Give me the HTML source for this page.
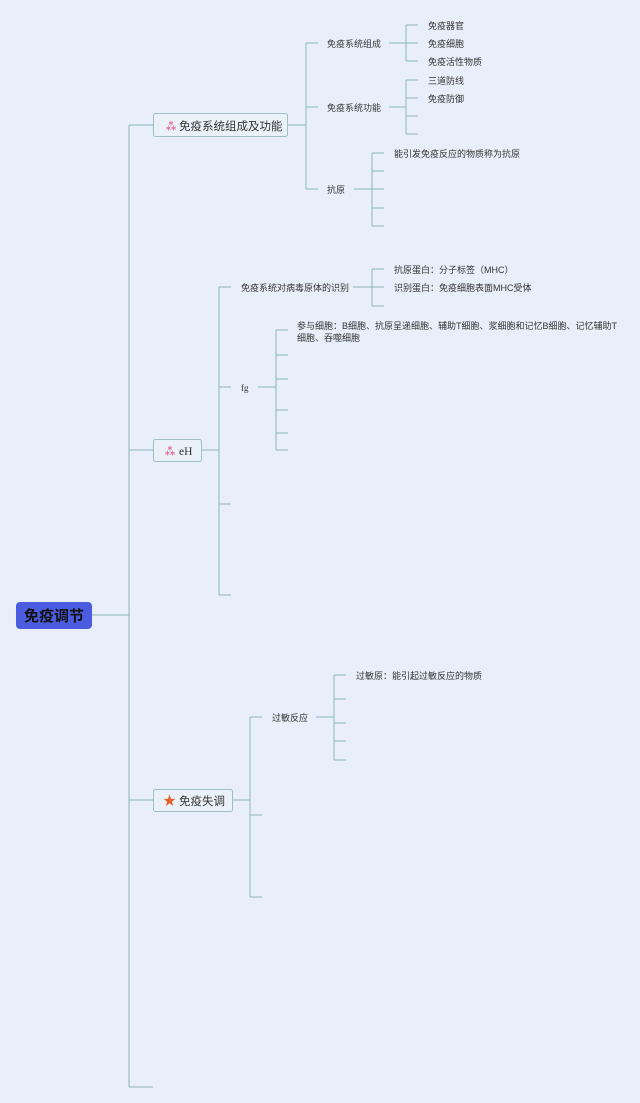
<!DOCTYPE html>
<html><head><meta charset="utf-8"><style>
html,body{margin:0;padding:0;background:#e9effa;}
svg{display:block}
text{font-family:"Liberation Sans","Noto Sans CJK SC",sans-serif;fill:#333;}
.s{font-size:9px}
.m{font-size:11.5px}
</style></head><body>
<svg width="640" height="1103" viewBox="0 0 640 1103" xmlns="http://www.w3.org/2000/svg">
<rect width="640" height="1103" fill="#e9effa"/>
<g stroke="#8bb4bb" stroke-width="1" fill="none">
<path d="M92 615H129M129 125V1087M129 125H153M129 450H153M129 800H153M129 1087H153"/>
<path d="M287 125H306M306 43V189M306 43H318M306 107H318M306 189H318"/>
<path d="M389 43H406M406 25V61M406 25H418M406 43H418M406 61H418"/>
<path d="M389 107H406M406 80V134M406 80H418M406 98H418M406 116H418M406 134H418"/>
<path d="M354 189H372M372 153V226M372 153H384M372 171H384M372 189H384M372 208H384M372 226H384"/>
<path d="M201 450H219M219 287V595M219 287H231M219 387H231M219 504H231M219 595H231"/>
<path d="M353 287H372M372 269V306M372 269H384M372 287H384M372 306H384"/>
<path d="M258 387H276M276 330V450M276 330H288M276 355H288M276 379H288M276 410H288M276 433H288M276 450H288"/>
<path d="M232 800H250M250 717V897M250 717H262M250 815H262M250 897H262"/>
<path d="M316 717H334M334 675V760M334 675H346M334 699H346M334 723H346M334 741H346M334 760H346"/>
</g>
<rect x="16" y="602" width="76" height="27" rx="4" fill="#4b5ce0"/>
<text x="54" y="621" text-anchor="middle" style="font-size:15px;font-weight:bold;fill:#111">免疫调节</text>
<rect x="153.5" y="113.5" width="134" height="23" rx="2" fill="#eaf1f8" stroke="#9cc0c6"/>
<text x="165" y="130" style="font-size:12px;fill:#e0336e">⁂</text>
<text x="179" y="130" class="m">免疫系统组成及功能</text>
<rect x="153.5" y="439.5" width="48" height="22" rx="2" fill="#eaf1f8" stroke="#9cc0c6"/>
<text x="164" y="455" style="font-size:12px;fill:#e0336e">⁂</text>
<text x="179" y="455" class="m" style="font-family:'Liberation Serif',serif">eH</text>
<rect x="153.5" y="789.5" width="79" height="22" rx="2" fill="#eaf1f8" stroke="#9cc0c6"/>
<text x="163" y="805" style="font-size:13px;fill:#e5602c">★</text>
<text x="179" y="805" class="m">免疫失调</text>
<text x="327" y="47" class="s">免疫系统组成</text>
<text x="428" y="29" class="s">免疫器官</text>
<text x="428" y="47" class="s">免疫细胞</text>
<text x="428" y="65" class="s">免疫活性物质</text>
<text x="327" y="111" class="s">免疫系统功能</text>
<text x="428" y="84" class="s">三道防线</text>
<text x="428" y="102" class="s">免疫防御</text>
<text x="327" y="193" class="s">抗原</text>
<text x="394" y="157" class="s">能引发免疫反应的物质称为抗原</text>
<text x="241" y="291" class="s">免疫系统对病毒原体的识别</text>
<text x="394" y="273" class="s">抗原蛋白：分子标签（MHC）</text>
<text x="394" y="291" class="s">识别蛋白：免疫细胞表面MHC受体</text>
<text x="241" y="391" class="s" style="font-family:'Liberation Serif',serif">fg</text>
<text x="297" y="329" class="s">参与细胞：B细胞、抗原呈递细胞、辅助T细胞、浆细胞和记忆B细胞、记忆辅助T</text>
<text x="297" y="341" class="s">细胞、吞噬细胞</text>
<text x="272" y="721" class="s">过敏反应</text>
<text x="356" y="679" class="s">过敏原：能引起过敏反应的物质</text>
</svg>
</body></html>
